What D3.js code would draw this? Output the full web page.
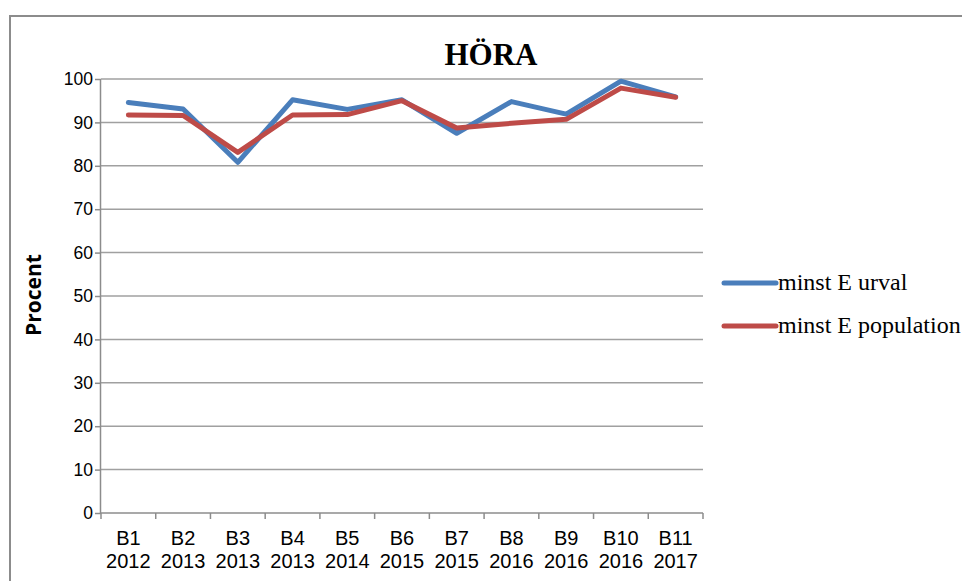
<!DOCTYPE html>
<html>
<head>
<meta charset="utf-8">
<script src="https://cdn.jsdelivr.net/npm/d3@7.9.0/dist/d3.min.js"></script>
<style>
  body { margin: 0; background: #fff; }
  svg { display: block; }
</style>
</head>
<body>
<svg id="chart" width="962" height="581"></svg>
<script>
// data
const categories = ['B1|2012', 'B2|2013', 'B3|2013', 'B4|2013', 'B5|2014', 'B6|2015',
                    'B7|2015', 'B8|2016', 'B9|2016', 'B10|2016', 'B11|2017'];
const urval = [94.6, 93.1, 80.8, 95.2, 93.0, 95.2, 87.5, 94.8, 91.9, 99.5, 95.9];
const population = [91.7, 91.6, 83.1, 91.7, 91.8, 95.0, 88.7, 89.8, 90.7, 97.9, 95.8];
const seriesNames = ['minst E urval', 'minst E population'];
const seriesColors = ['#4a7ebb', '#be4b48'];
const yTicks = [0, 10, 20, 30, 40, 50, 60, 70, 80, 90, 100];

const svg = d3.select('#chart');

// outer frame (chart area border)
svg.append('path')
  .attr('d', 'M10,980 V16 H1000')
  .attr('fill', 'none')
  .attr('stroke', '#8c8c8c')
  .attr('stroke-width', 2);

const x = d3.scaleBand().domain(categories).range([101, 703]);
const y = d3.scaleLinear().domain([0, 100]).range([513, 79]);

// gridlines
svg.append('g')
  .selectAll('line')
  .data(yTicks.filter(d => d > 0))
  .join('line')
  .attr('x1', 101).attr('x2', 703)
  .attr('y1', d => y(d)).attr('y2', d => y(d))
  .attr('stroke', '#a0a0a0')
  .attr('stroke-width', 1.5);

// y axis
const yAxis = svg.append('g')
  .attr('transform', 'translate(101,0)')
  .call(d3.axisLeft(y).tickValues(yTicks).tickSize(6).tickPadding(2));
yAxis.select('.domain').attr('stroke', '#8c8c8c').attr('stroke-width', 1.5)
  .attr('d', `M-0.5,${y(100)}V${y(0)}`);
yAxis.selectAll('.tick line').attr('stroke', '#8c8c8c').attr('stroke-width', 1.5);
yAxis.selectAll('text')
  .attr('font-family', 'Liberation Sans, Arial, sans-serif')
  .attr('font-size', 17.5)
  .attr('fill', '#000');

// x axis
const xAxis = svg.append('g')
  .attr('transform', `translate(0,${y(0)})`)
  .call(d3.axisBottom(x).tickSize(0).tickFormat(''));
xAxis.select('.domain').attr('stroke', '#8c8c8c').attr('stroke-width', 1.5)
  .attr('d', `M101,0H703`);
xAxis.selectAll('.tick').remove();

const tickPos = categories.map(c => x(c)).concat([x.range()[1]]);
xAxis.selectAll('line.sep')
  .data(tickPos)
  .join('line')
  .attr('class', 'sep')
  .attr('x1', d => d).attr('x2', d => d)
  .attr('y1', 0).attr('y2', 6)
  .attr('stroke', '#8c8c8c')
  .attr('stroke-width', 1.5);

const xl = xAxis.selectAll('text.cat')
  .data(categories)
  .join('text')
  .attr('class', 'cat')
  .attr('text-anchor', 'middle')
  .attr('font-family', 'Liberation Sans, Arial, sans-serif')
  .attr('font-size', 20)
  .attr('fill', '#000');
xl.append('tspan').attr('x', d => x(d) + x.bandwidth() / 2).attr('y', 32).text(d => d.split('|')[0]);
xl.append('tspan').attr('x', d => x(d) + x.bandwidth() / 2).attr('y', 55).text(d => d.split('|')[1]);

// y title
svg.append('text')
  .attr('transform', 'translate(41,295) rotate(-90)')
  .attr('text-anchor', 'middle')
  .attr('font-family', 'Open Sans, sans-serif')
  .attr('font-weight', 'bold')
  .attr('font-size', 21)
  .text('Procent');

// chart title
svg.append('text')
  .attr('x', 491)
  .attr('y', 65)
  .attr('text-anchor', 'middle')
  .attr('font-family', 'Liberation Serif, Times New Roman, serif')
  .attr('font-weight', 'bold')
  .attr('font-size', 31)
  .text('HÖRA');

// lines
const line = d3.line()
  .x((d, i) => x(categories[i]) + x.bandwidth() / 2)
  .y(d => y(d));

[urval, population].forEach((vals, i) => {
  svg.append('path')
    .datum(vals)
    .attr('d', line)
    .attr('fill', 'none')
    .attr('stroke', seriesColors[i])
    .attr('stroke-width', 5)
    .attr('stroke-linejoin', 'round')
    .attr('stroke-linecap', 'round');
});

// legend
const legend = svg.append('g');
seriesNames.forEach((name, i) => {
  const ly = 283 + i * 43;
  legend.append('line')
    .attr('x1', 724).attr('x2', 776)
    .attr('y1', ly).attr('y2', ly)
    .attr('stroke', seriesColors[i])
    .attr('stroke-width', 5)
    .attr('stroke-linecap', 'round');
  legend.append('text')
    .attr('x', 778)
    .attr('y', ly + 7)
    .attr('font-family', 'Liberation Serif, Times New Roman, serif')
    .attr('font-size', 24)
    .text(name);
});
</script>
</body>
</html>
